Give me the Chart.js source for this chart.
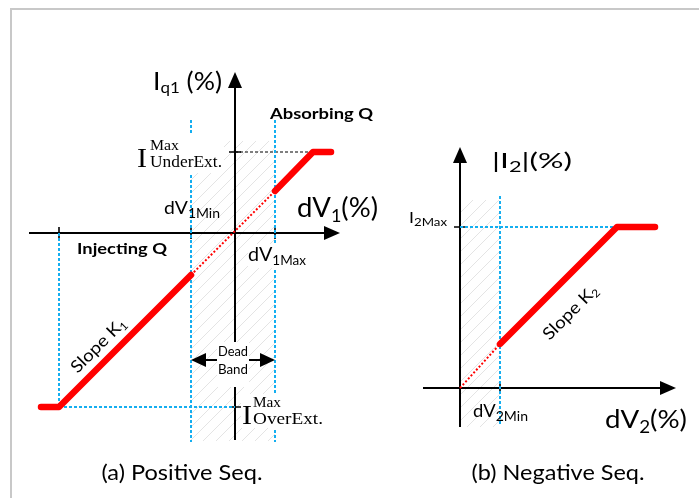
<!DOCTYPE html>
<html>
<head>
<meta charset="utf-8">
<title>Iq1 / I2 control characteristics</title>
<script src="https://cdn.jsdelivr.net/npm/chart.js@4.4.1/dist/chart.umd.min.js"></script>
<style>
  body { margin: 0; background: #fff; }
  .figure { position: relative; width: 699px; height: 498px; overflow: hidden; }
  .figure .frame { position: absolute; left: 10px; top: 8px; right: -5px; bottom: -5px;
    border-top: 2px solid #c8c8c8; border-left: 2px solid #c8c8c8; }
  .figure canvas { position: absolute; top: 0; }
  #chartPos { left: 0; }
  #chartNeg { left: 400px; }
</style>
</head>
<body>
<div class="figure">
  <div class="frame"></div>
  <canvas id="chartPos" width="400" height="498"></canvas>
  <canvas id="chartNeg" width="299" height="498"></canvas>
</div>
<script>
const RED = '#ff0000';
const CYAN = '#14aef0';
const HATCH = '#e4e4e4';
const SANS = 'Lato, "Noto Sans", sans-serif';
const SERIF = '"Liberation Serif", "DejaVu Serif", serif';
const UNIT = 40; // px per % on both panels

// (a) positive sequence: Iq1 against dV1
const dv1Inject = [-4.85, -4.4, -1.1];
const iq1Inject = [-4.35, -4.35, -1.05];
const dv1Absorb = [1.0, 1.95, 2.4];
const iq1Absorb = [1.05, 2.025, 2.025];
const dv1Dead = [-1.1, 1.0];
const iq1Dead = [-1.05, 1.05];
const dv1Ticks = [-4.4, -1.1, 1.0];   // saturation point, dV1Min, dV1Max
const iq1Ticks = [2.025, -4.35];      // I max under-excited, over-excited
const deadBandY = -3.175;

// (b) negative sequence: |I2| against dV2
const dv2Line = [1.0, 3.925, 4.875];
const i2Line = [1.1, 4.025, 4.025];
const dv2Dead = [0, 1.0];
const i2Dead = [0, 1.1];
const dv2Ticks = [1.0];
const i2Ticks = [4.025];

function serie(xs, ys, style) {
  return Object.assign({
    data: xs.map((x, i) => ({ x, y: ys[i] })),
    showLine: true, pointRadius: 0, fill: false, tension: 0,
    borderCapStyle: 'round', borderJoinStyle: 'round'
  }, style);
}
const thick = { borderColor: RED, borderWidth: 6.5 };
const dotRed = { borderColor: RED, borderWidth: 2, borderDash: [2, 2], borderCapStyle: 'butt' };
const dotCyan = { borderColor: CYAN, borderWidth: 2, borderDash: [3, 2], borderCapStyle: 'butt' };
const dashBlack = { borderColor: '#000', borderWidth: 1.2, borderDash: [3, 2], borderCapStyle: 'butt' };

function arrow(ctx, x1, y1, x2, y2, len, half) {
  const a = Math.atan2(y2 - y1, x2 - x1), c = Math.cos(a), s = Math.sin(a);
  ctx.beginPath();
  ctx.moveTo(x1, y1);
  ctx.lineTo(x2 - c * len * 0.8, y2 - s * len * 0.8);
  ctx.stroke();
  ctx.beginPath();
  ctx.moveTo(x2, y2);
  ctx.lineTo(x2 - len * c + half * s, y2 - len * s - half * c);
  ctx.lineTo(x2 - len * c - half * s, y2 - len * s + half * c);
  ctx.closePath();
  ctx.fill();
}

// runs: [text, size, dy, family, weight]; w = width the whole label is stretched to
function rich(ctx, x, y, runs, w, align) {
  const font = r => `${r[4] || ''} ${r[1]}px ${r[3] || SANS}`;
  let natural = 0;
  runs.forEach(r => { ctx.font = font(r); natural += ctx.measureText(r[0]).width; });
  const k = w ? w / natural : 1;
  ctx.save();
  ctx.translate(align === 'center' ? x - natural * k / 2 : x, y);
  ctx.scale(k, 1);
  ctx.textAlign = 'left';
  ctx.textBaseline = 'alphabetic';
  let cx = 0;
  runs.forEach(r => {
    ctx.font = font(r);
    ctx.fillText(r[0], cx, r[2] || 0);
    cx += ctx.measureText(r[0]).width;
  });
  ctx.restore();
}

function blank(ctx, x, y, w, h) {
  ctx.fillStyle = '#fff';
  ctx.fillRect(x, y, w, h);
  ctx.fillStyle = '#000';
}

function axesPlugin(cfg) {
  return {
    id: 'axes',
    beforeDatasetsDraw(chart) {
      const { ctx, scales: { x, y } } = chart;
      // hatched dead band
      const hx0 = x.getPixelForValue(cfg.hatch.x[0]), hx1 = x.getPixelForValue(cfg.hatch.x[1]);
      const hy0 = y.getPixelForValue(cfg.hatch.y[1]), hy1 = y.getPixelForValue(cfg.hatch.y[0]);
      ctx.save();
      ctx.beginPath();
      ctx.rect(hx0, hy0, hx1 - hx0, hy1 - hy0);
      ctx.clip();
      ctx.strokeStyle = HATCH;
      ctx.lineWidth = 1;
      ctx.beginPath();
      const h = hy1 - hy0;
      for (let k = -h; k < hx1 - hx0 + h; k += 13) {
        ctx.moveTo(hx0 + k, hy1);
        ctx.lineTo(hx0 + k + h, hy0);
      }
      ctx.stroke();
      ctx.restore();

      // axes with arrow heads
      const ox = x.getPixelForValue(0), oy = y.getPixelForValue(0);
      ctx.save();
      ctx.strokeStyle = '#000';
      ctx.fillStyle = '#000';
      ctx.lineWidth = 2;
      arrow(ctx, x.getPixelForValue(cfg.axis.x[0]), oy, x.getPixelForValue(cfg.axis.x[1]), oy, 16, 7);
      arrow(ctx, ox, y.getPixelForValue(cfg.axis.y[0]), ox, y.getPixelForValue(cfg.axis.y[1]), 16, 7);
      ctx.lineWidth = 1.6;
      ctx.beginPath();
      cfg.xTicks.forEach(v => {
        const p = x.getPixelForValue(v);
        ctx.moveTo(p, oy - 6); ctx.lineTo(p, oy + 6);
      });
      cfg.yTicks.forEach(v => {
        const p = y.getPixelForValue(v);
        ctx.moveTo(ox - 6, p); ctx.lineTo(ox + 6, p);
      });
      ctx.stroke();
      ctx.restore();
    },
    afterDatasetsDraw(chart) {
      const { ctx, scales } = chart;
      ctx.save();
      ctx.fillStyle = '#000';
      ctx.strokeStyle = '#000';
      cfg.labels(ctx, scales.x, scales.y);
      ctx.restore();
    }
  };
}

function makeChart(id, origin, datasets, cfg) {
  const cv = document.getElementById(id);
  return new Chart(cv, {
    type: 'scatter',
    data: { datasets },
    options: {
      responsive: false,
      animation: false,
      events: [],
      layout: { padding: 0 },
      plugins: { legend: { display: false }, tooltip: { enabled: false } },
      scales: {
        x: { type: 'linear', display: false, min: -origin[0] / UNIT, max: (cv.width - origin[0]) / UNIT },
        y: { type: 'linear', display: false, min: -(cv.height - origin[1]) / UNIT, max: origin[1] / UNIT }
      }
    },
    plugins: [axesPlugin(cfg)]
  });
}

// ---- (a) Positive Seq.
const guideSpan1 = [2.825, -5.225];
makeChart('chartPos', [235, 233], [
  serie(dv1Inject, iq1Inject, thick),
  serie(dv1Absorb, iq1Absorb, thick),
  serie(dv1Dead, iq1Dead, dotRed),
  serie([dv1Ticks[0], dv1Ticks[0]], [0, iq1Ticks[1]], dotCyan),
  serie([dv1Ticks[0], 0], [iq1Ticks[1], iq1Ticks[1]], dotCyan),
  serie([dv1Ticks[1], dv1Ticks[1]], guideSpan1, dotCyan),
  serie([dv1Ticks[2], dv1Ticks[2]], guideSpan1, dotCyan),
  serie([0, dv1Absorb[1]], [iq1Ticks[0], iq1Ticks[0]], dashBlack)
], {
  axis: { x: [-5.15, 2.625], y: [-5.175, 4.025] },
  hatch: { x: [dv1Ticks[1], dv1Ticks[2]], y: [-5.2, 2.3] },
  xTicks: dv1Ticks,
  yTicks: iq1Ticks,
  labels(ctx, x, y) {
    // dead band arrows
    const xa = x.getPixelForValue(dv1Ticks[1]), xb = x.getPixelForValue(dv1Ticks[2]);
    const xm = (xa + xb) / 2, yb = y.getPixelForValue(deadBandY);
    blank(ctx, xm - 16, yb - 18, 32, 45);
    ctx.lineWidth = 2;
    arrow(ctx, xm - 16, yb, xa, yb, 15, 7);
    arrow(ctx, xm + 16, yb, xb, yb, 15, 7);
    rich(ctx, xm, yb - 4, [['Dead', 13]], 30, 'center');
    rich(ctx, xm, yb + 14, [['Band', 13]], 30, 'center');

    rich(ctx, 153, 90, [['I', 25], ['q1', 16, 3], [' (%)', 25]], 69);
    rich(ctx, 270, 119, [['Absorbing Q', 15, 0, SANS, 'bold']], 103);
    blank(ctx, 136, 135, 88, 38);
    rich(ctx, 137, 167, [['I', 27, 0, SERIF]], 10);
    rich(ctx, 150, 150, [['Max', 15, 0, SERIF]], 29);
    rich(ctx, 150, 167, [['UnderExt.', 17, 0, SERIF]], 72);
    rich(ctx, 164, 214, [['dV', 18], ['1Min', 13, 4]], 56);
    rich(ctx, 297, 217, [['dV', 26], ['1', 17, 5], ['(%)', 26]], 81);
    rich(ctx, 77, 254, [['Injecting Q', 15, 0, SANS, 'bold']], 90);
    blank(ctx, 248, 244, 60, 24);
    rich(ctx, 248, 261, [['dV', 19], ['1Max', 13, 4]], 58);
    blank(ctx, 241, 394, 84, 34);
    rich(ctx, 242, 424, [['I', 27, 0, SERIF]], 10);
    rich(ctx, 253, 407, [['Max', 15, 0, SERIF]], 28);
    rich(ctx, 253, 424, [['OverExt.', 17, 0, SERIF]], 70);

    ctx.save();
    ctx.translate(98, 345);
    ctx.rotate(-Math.PI / 4);
    rich(ctx, 0, 6, [['Slope K', 17], ['1', 11, 3]], 70, 'center');
    ctx.restore();

    rich(ctx, 182, 480, [['(a) Positive Seq.', 21]], 161, 'center');
  }
});

// ---- (b) Negative Seq.
makeChart('chartNeg', [60, 388], [
  serie(dv2Line, i2Line, thick),
  serie(dv2Dead, i2Dead, dotRed),
  serie([dv2Ticks[0], dv2Ticks[0]], [4.8, -0.95], dotCyan),
  serie([0, dv2Line[1]], [i2Ticks[0], i2Ticks[0]], dotCyan)
], {
  axis: { x: [-0.925, 5.4], y: [-0.975, 6.025] },
  hatch: { x: [0, dv2Ticks[0]], y: [-0.975, 4.7] },
  xTicks: dv2Ticks,
  yTicks: i2Ticks,
  labels(ctx) {
    rich(ctx, 92, 168, [['|I', 22], ['2', 15, 4], ['|(%)', 22]], 80);
    rich(ctx, 9, 223, [['I', 16], ['2Max', 12, 3]], 38);
    rich(ctx, 73, 417, [['dV', 17], ['2Min', 13, 4]], 55);
    rich(ctx, 205, 428, [['dV', 25], ['2', 17, 5], ['(%)', 25]], 82);

    ctx.save();
    ctx.translate(170, 312);
    ctx.rotate(-Math.PI / 4);
    rich(ctx, 0, 6, [['Slope K', 17], ['2', 11, 3]], 70, 'center');
    ctx.restore();

    rich(ctx, 158, 480, [['(b) Negative Seq.', 21]], 173, 'center');
  }
});
</script>
</body>
</html>
